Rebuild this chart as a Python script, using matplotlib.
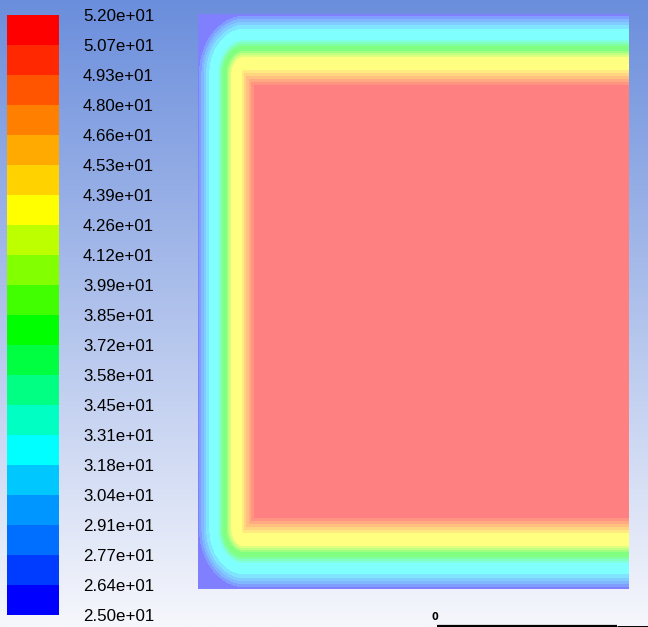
import numpy as np
import matplotlib
matplotlib.use('Agg')
import matplotlib.pyplot as plt

plt.rcParams['font.family'] = ['Liberation Sans', 'DejaVu Sans']

# contour levels (colour bar boundaries, bottom to top)
levels = [25.0, 26.35, 27.7, 29.05, 30.4, 31.75, 33.1, 34.45, 35.8, 37.15, 38.5,
          39.85, 41.2, 42.55, 43.9, 45.25, 46.6, 47.95, 49.3, 50.65, 52.0]
level_labels = ['2.50e+01', '2.64e+01', '2.77e+01', '2.91e+01', '3.04e+01', '3.18e+01',
                '3.31e+01', '3.45e+01', '3.58e+01', '3.72e+01', '3.85e+01', '3.99e+01',
                '4.12e+01', '4.26e+01', '4.39e+01', '4.53e+01', '4.66e+01', '4.80e+01',
                '4.93e+01', '5.07e+01', '5.20e+01']
band_rgb = [(0, 0, 255), (0, 60, 255), (0, 110, 255), (0, 150, 255), (0, 200, 255),
            (0, 255, 255), (0, 255, 195), (0, 255, 130), (0, 255, 65), (0, 255, 0),
            (65, 255, 0), (130, 255, 0), (190, 255, 0), (255, 255, 0), (255, 210, 0),
            (255, 170, 0), (255, 128, 0), (255, 85, 0), (255, 40, 0), (255, 0, 0)]

# temperature vs distance from the top wall (px)
prof_d = [0, 2, 5, 8, 11, 15, 26, 28, 30, 32, 37, 39, 41, 43, 56, 59, 62, 65, 68, 71, 80]
# depth (px) at which the hot core starts, per wall
wall_depth = {'top': 71, 'bottom': 71, 'left': 56}
corner_r = 0.85  # corner rounding, in units of wall depth

fig = plt.figure(figsize=(6.48, 6.27), dpi=100)
ax = fig.add_axes([0, 0, 1, 1])
ax.set_xlim(0, 648)
ax.set_ylim(627, 0)
ax.axis('off')

# background gradient
top = np.array([107, 142, 220]) / 255
bot = np.array([246, 247, 252]) / 255
t = np.linspace(0, 1, 256)[:, None, None]
grad = top * (1 - t) + bot * t
ax.imshow(grad, extent=(0, 648, 627, 0), aspect='auto', zorder=0)

# temperature field: normalised depth from the cold walls, rounded corners
x0, x1, y0, y1 = 198, 629, 14, 589
xs = np.linspace(x0, x1, 432)
ys = np.linspace(y0, y1, 576)
X, Y = np.meshgrid(xs, ys)
s_t = (Y - y0) / wall_depth['top']
s_b = (y1 - Y) / wall_depth['bottom']
s_l = (X - x0) / wall_depth['left']
R = corner_r
c_tl = np.where((s_t < R) & (s_l < R), R - np.hypot(R - s_t, R - s_l), np.inf)
c_bl = np.where((s_b < R) & (s_l < R), R - np.hypot(R - s_b, R - s_l), np.inf)
s = np.clip(np.minimum.reduce([s_t, s_b, s_l, c_tl, c_bl]), 0, None)
T = np.interp(s * prof_d[-2], prof_d, levels)

light = [tuple((0.5 * c + 127.5) / 255 for c in rgb) for rgb in band_rgb]
ax.contourf(X, Y, T, levels=levels, colors=light, antialiased=False, zorder=1)

# colour bar
for i, rgb in enumerate(band_rgb):
    ax.bar(33, 30, bottom=585 - 30 * i, width=52,
           color=tuple(c / 255 for c in rgb), zorder=2)
for k, lab in enumerate(level_labels):
    ax.text(83, 616.5 - 30 * k, lab, fontsize=12.2, va='center', ha='left', zorder=3)

# scale bar
ax.plot([437, 617], [625.5, 625.5], color='black', lw=1.6, solid_capstyle='butt', zorder=3)
ax.plot([617, 648], [625.5, 625.5], color='black', lw=0.7, solid_capstyle='butt', zorder=3)
ax.text(434.5, 617, '0', fontsize=7, fontweight='bold', ha='center', va='center',
        family='DejaVu Sans', zorder=3)

fig.savefig('out.png', dpi=100)
